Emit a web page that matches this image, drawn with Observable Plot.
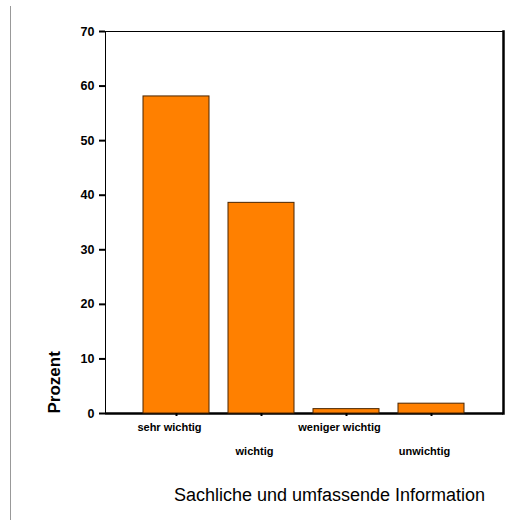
<!DOCTYPE html>
<html><head><meta charset="utf-8">
<script src="https://cdn.jsdelivr.net/npm/d3@7"></script>
<script src="https://cdn.jsdelivr.net/npm/@observablehq/plot@0.6"></script>
<style>
body{margin:0;background:#fff}
#wrap{position:relative;width:514px;height:520px}
#vline{position:absolute;left:10px;top:6px;width:0;height:514px;border-left:1px solid #999}
</style>
</head><body><div id="wrap"><div id="vline"></div></div>
<script>
const categories = ["sehr wichtig", "wichtig", "weniger wichtig", "unwichtig"];
const percents = [58.1, 38.6, 0.8, 1.8];
const yTicks = [0, 10, 20, 30, 40, 50, 60, 70];
const yLabel = "Prozent";
const title = "Sachliche und umfassende Information";

const data = categories.map((c, i) => ({category: c, percent: percents[i]}));
const rowA = categories.filter((_, i) => i % 2 === 0);
const rowB = categories.filter((_, i) => i % 2 === 1);
const font = "'Liberation Sans', Arial, Helvetica, sans-serif";

const chart = Plot.plot({
  width: 514, height: 520,
  marginLeft: 105, marginRight: 11, marginTop: 31, marginBottom: 107,
  style: {fontFamily: font, fontSize: "11px", fontWeight: "bold", color: "#000", background: "#fff", overflow: "visible"},
  x: {domain: categories, paddingInner: 0.22, paddingOuter: 0.45},
  y: {domain: [0, 70]},
  marks: [
    Plot.frame({stroke: "#000", strokeWidth: 1}),
    Plot.frame({anchor: "right", stroke: "#000", strokeWidth: 2.5}),
    Plot.ruleY([0], {stroke: "#000", strokeWidth: 2.5}),
    Plot.barY(data, {x: "category", y: "percent", fill: "#FF8000", stroke: "#4a2500", strokeWidth: 1}),
    Plot.axisY({ticks: yTicks, tickSize: 6, tickPadding: 5, strokeWidth: 2, label: null, fontSize: 12.5}),
    Plot.axisX({tickSize: 3, strokeWidth: 2, tickFormat: () => "", label: null}),
    Plot.text(rowA, {x: d => d, text: d => d, frameAnchor: "bottom", dy: 17.5, dx: -7, fontSize: 11}),
    Plot.text(rowB, {x: d => d, text: d => d, frameAnchor: "bottom", dy: 41.5, dx: -7, fontSize: 11}),
    Plot.text([yLabel], {text: d => d, frameAnchor: "bottom-left", rotate: -90, textAnchor: "start", dx: -46, dy: 0, fontSize: 17, fontWeight: "bold"}),
    Plot.text([title], {text: d => d, frameAnchor: "bottom", dx: 25, dy: 87, fontSize: 18, fontWeight: "normal", fill: "#000"})
  ]
});
document.getElementById("wrap").appendChild(chart);
</script>
</body></html>
